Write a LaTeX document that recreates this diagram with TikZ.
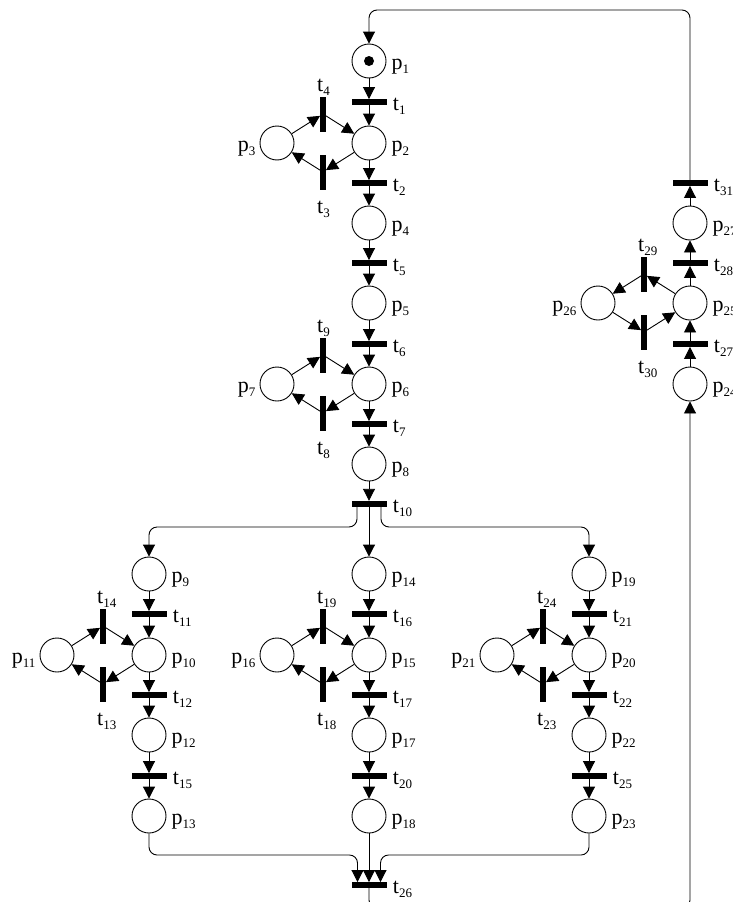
\documentclass[tikz,border=0pt]{standalone}
\usepackage{fontspec}
\setmainfont{Liberation Serif}
\usetikzlibrary{arrows.meta}
\newcommand\lb[2]{#1\raisebox{-4pt}{\fontsize{13}{13}\selectfont #2}}
% place, label right
\newcommand\mkP[4]{\node[place] (#1) at (#2,#3) {};
  \node[txt,anchor=base west] (l#1) at ([shift={(5,8)}]#1.east) {\lb{p}{#4}};}
% place, label left
\newcommand\mkPL[4]{\node[place] (#1) at (#2,#3) {};
  \node[txt,anchor=base east] (l#1) at ([shift={(-4,8)}]#1.west) {\lb{p}{#4}};}
% horizontal transition, label right
\newcommand\mkTH[4]{\node[trh] (#1) at (#2,#3) {};
  \node[txt,anchor=base west] (l#1) at ([shift={(6,8)}]#1.east) {\lb{t}{#4}};}
% vertical transition, label above
\newcommand\mkTU[4]{\node[trv] (#1) at (#2,#3) {};
  \node[txt,anchor=base west] (l#1) at ([shift={(-6,-5)}]#1.north) {\lb{t}{#4}};}
% vertical transition, label below
\newcommand\mkTD[4]{\node[trv] (#1) at (#2,#3) {};
  \node[txt,anchor=base west] (l#1) at ([shift={(-6,24)}]#1.south) {\lb{t}{#4}};}
\begin{document}
\begin{tikzpicture}[x=1pt,y=-1pt,
  place/.style={circle,draw,line width=0.9pt,minimum size=34pt,inner sep=0pt},
  trh/.style={rectangle,fill=black,minimum width=35pt,minimum height=5.5pt,inner sep=0pt},
  trv/.style={rectangle,fill=black,minimum width=5.5pt,minimum height=35pt,inner sep=0pt},
  arc/.style={line width=0.9pt,-{Triangle[length=12pt,width=12pt]}},
  txt/.style={font=\fontsize{22}{22}\selectfont,inner sep=0pt},
  token/.style={circle,fill=black,minimum size=10pt,inner sep=0pt},
]
\clip (0,0) rectangle (733,902);
\fill[white] (0,0) rectangle (733,902);

% ---------- main column ----------
\mkP{p1}{369}{61}{1}
\node[token] (tok) at (p1) {};
\mkTH{t1}{369}{102}{1}
\mkP{p2}{369}{143}{2}
\mkTH{t2}{369}{183}{2}
\mkP{p4}{369}{223}{4}
\mkTH{t5}{369}{263}{5}
\mkP{p5}{369}{303}{5}
\mkTH{t6}{369}{344}{6}
\mkP{p6}{369}{384}{6}
\mkTH{t7}{369}{424}{7}
\mkP{p8}{369}{464}{8}
\node[trh,minimum height=6pt] (t10) at (369,504) {};
\node[txt,anchor=base west] (lt10) at ([shift={(6,8)}]t10.east) {\lb{t}{10}};

\mkPL{p3}{277}{143}{3}
\mkTU{t4}{323}{114}{4}
\mkTD{t3}{323}{172}{3}
\mkPL{p7}{277}{384}{7}
\mkTU{t9}{323}{355}{9}
\mkTD{t8}{323}{413}{8}

% ---------- lower columns ----------
\mkP{p9}{149}{574}{9}
\mkTH{t11}{149}{614}{11}
\mkP{p10}{149}{655}{10}
\mkTH{t12}{149}{695}{12}
\mkP{p12}{149}{735}{12}
\mkTH{t15}{149}{776}{15}
\mkP{p13}{149}{816}{13}
\mkPL{p11}{57}{655}{11}
\mkTU{t14}{103}{626}{14}
\mkTD{t13}{103}{684}{13}

\mkP{p14}{369}{574}{14}
\mkTH{t16}{369}{614}{16}
\mkP{p15}{369}{655}{15}
\mkTH{t17}{369}{695}{17}
\mkP{p17}{369}{735}{17}
\mkTH{t20}{369}{776}{20}
\mkP{p18}{369}{816}{18}
\mkPL{p16}{277}{655}{16}
\mkTU{t19}{323}{626}{19}
\mkTD{t18}{323}{684}{18}

\mkP{p19}{589}{574}{19}
\mkTH{t21}{589}{614}{21}
\mkP{p20}{589}{655}{20}
\mkTH{t22}{589}{695}{22}
\mkP{p22}{589}{735}{22}
\mkTH{t25}{589}{776}{25}
\mkP{p23}{589}{816}{23}
\mkPL{p21}{497}{655}{21}
\mkTU{t24}{543}{626}{24}
\mkTD{t23}{543}{684}{23}

\mkTH{t26}{369}{885}{26}

% ---------- right column ----------
\mkTH{t31}{690}{183}{31}
\mkP{p27}{690}{223}{27}
\mkTH{t28}{690}{263}{28}
\mkP{p25}{690}{303}{25}
\mkTH{t27}{690}{344}{27}
\mkP{p24}{690}{384}{24}
\mkPL{p26}{598}{303}{26}
\mkTU{t29}{644}{274}{29}
\mkTD{t30}{644}{332}{30}

% ---------- arcs ----------
\foreach \a/\b in {p1/t1,t1/p2,p2/t2,t2/p4,p4/t5,t5/p5,p5/t6,t6/p6,p6/t7,t7/p8,p8/t10,
  p3/t4,t4/p2,p2/t3,t3/p3,p7/t9,t9/p6,p6/t8,t8/p7,
  p9/t11,t11/p10,p10/t12,t12/p12,p12/t15,t15/p13,p11/t14,t14/p10,p10/t13,t13/p11,
  p14/t16,t16/p15,p15/t17,t17/p17,p17/t20,t20/p18,p16/t19,t19/p15,p15/t18,t18/p16,
  p19/t21,t21/p20,p20/t22,t22/p22,p22/t25,t25/p23,p21/t24,t24/p20,p20/t23,t23/p21,
  p24/t27,t27/p25,p25/t28,t28/p27,p27/t31,p25/t29,t29/p26,p26/t30,t30/p25,
  t10/p14,p18/t26}
  \draw[arc] (\a) -- (\b);

% fork after t10
\coordinate (t10l) at ([xshift=-12pt]t10.south);
\coordinate (t10r) at ([xshift=12pt]t10.south);
\draw[arc,rounded corners=8pt] (t10l) -- (t10l |- 0,527) -- (p9 |- 0,527) -- (p9);
\draw[arc,rounded corners=8pt] (t10r) -- (t10r |- 0,527) -- (p19 |- 0,527) -- (p19);

% join into t26
\coordinate (t26l) at ([xshift=-11.5pt]t26.north);
\coordinate (t26r) at ([xshift=11.5pt]t26.north);
\draw[arc,rounded corners=8pt] (p13) -- (p13 |- 0,855) -- (t26l |- 0,855) -- (t26l);
\draw[arc,rounded corners=8pt] (p23) -- (p23 |- 0,855) -- (t26r |- 0,855) -- (t26r);

% t26 back to p24 (along the bottom edge)
\draw[arc,rounded corners=8pt] (t26) -- (t26 |- 0,908) -- (p24 |- 0,908) -- (p24);

% t31 back to p1 (along the top)
\draw[arc,rounded corners=8pt] (t31) -- (t31 |- 0,10) -- (p1 |- 0,10) -- (p1);
\end{tikzpicture}
\end{document}
